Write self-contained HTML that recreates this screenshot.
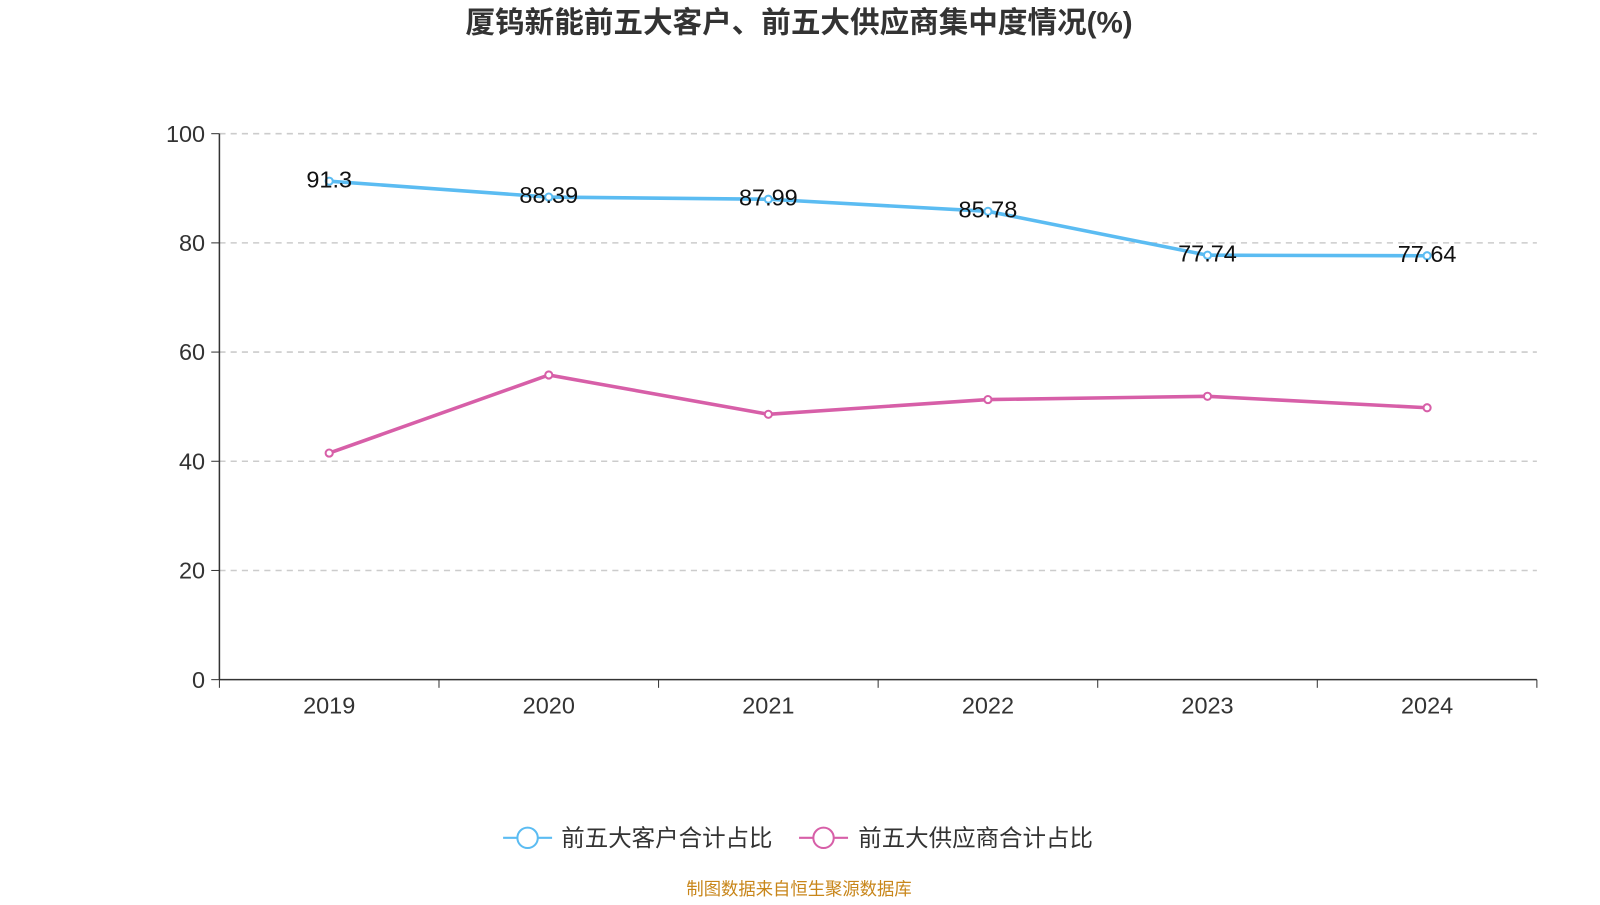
<!DOCTYPE html>
<html><head><meta charset="utf-8"><style>
body{margin:0;background:#fff;width:1600px;height:900px;overflow:hidden;font-family:"Liberation Sans","Noto Sans CJK SC",sans-serif}
</style></head><body>
<svg id="chart" width="1600" height="900" xmlns="http://www.w3.org/2000/svg" font-family="Liberation Sans, Noto Sans CJK SC, sans-serif">
<g transform="scale(1.0205)">
<text x="783" y="32" text-anchor="middle" font-size="29" font-weight="bold" fill="#333">厦钨新能前五大客户、前五大供应商集中度情况(%)</text>
<g id="grid"></g><g id="axes"></g><g id="series"></g>
<g>
<line x1="493" y1="821" x2="541" y2="821" stroke="#5bbcf2" stroke-width="2"/>
<circle cx="517" cy="821" r="10" fill="#fff" stroke="#5bbcf2" stroke-width="2"/>
<text x="550" y="829" font-size="23" fill="#333">前五大客户合计占比</text>
<line x1="783" y1="821" x2="831" y2="821" stroke="#d75fa8" stroke-width="2"/>
<circle cx="807" cy="821" r="10" fill="#fff" stroke="#d75fa8" stroke-width="2"/>
<text x="841" y="829" font-size="23" fill="#333">前五大供应商合计占比</text>
</g>
<text x="783" y="877" text-anchor="middle" font-size="17" fill="#c8861a">制图数据来自恒生聚源数据库</text>
</g>
</svg>
<script>
const categories=["2019","2020","2021","2022","2023","2024"];
const customers=[91.3,88.39,87.99,85.78,77.74,77.64];
const suppliers=[41.5,55.8,48.6,51.3,51.9,49.8];
const yTicks=[0,20,40,60,80,100];
const NS="http://www.w3.org/2000/svg";
const x0=215,x1=1506,y0=666,y1=131;
const bw=(x1-x0)/categories.length;
const X=i=>x0+bw*(i+0.5);
const Y=v=>y0-(v/100)*(y0-y1);
function mk(t,a,p){const e=document.createElementNS(NS,t);for(const k in a)e.setAttribute(k,a[k]);p.appendChild(e);return e;}
const grid=document.getElementById('grid'),axes=document.getElementById('axes'),ser=document.getElementById('series');
yTicks.forEach(v=>{
 if(v>0){const g=mk('line',{x1:x0,x2:x1,y1:Y(v),y2:Y(v),stroke:'#ccc','stroke-dasharray':'6,5','stroke-width':1.5},grid);
 
 }
 mk('line',{x1:x0-8,x2:x0,y1:Y(v),y2:Y(v),stroke:'#333'},axes);
 const t=mk('text',{x:x0-14,y:Y(v)+8,'text-anchor':'end','font-size':23,fill:'#333'},axes);t.textContent=v;
 
 
});
const ya=mk('line',{x1:x0,x2:x0,y1:y1,y2:y0,stroke:'#333','stroke-width':1.5},axes);


const xa=mk('line',{x1:x0,x2:x1,y1:y0,y2:y0,stroke:'#333','stroke-width':1.5},axes);


for(let i=0;i<=categories.length;i++)mk('line',{x1:x0+bw*i,x2:x0+bw*i,y1:y0,y2:y0+8,stroke:'#333'},axes);
categories.forEach((c,i)=>{const t=mk('text',{x:X(i),y:y0+33,'text-anchor':'middle','font-size':23,fill:'#333'},axes);t.textContent=c;
 
 });
function draw(vals,color,name,labels){
 const p=mk('polyline',{points:vals.map((v,i)=>X(i)+','+Y(v)).join(' '),fill:'none',stroke:color,'stroke-width':3.5},ser);
 
 
 vals.forEach((v,i)=>{const c=mk('circle',{cx:X(i),cy:Y(v),r:3.5,fill:'#fff',stroke:color,'stroke-width':2},ser);
  
  
  if(labels){const t=mk('text',{x:X(i),y:Y(v)+6,'text-anchor':'middle','font-size':23,fill:'#111'},ser);t.textContent=v;
   
   }
 });
}
draw(suppliers,'#d75fa8','suppliers',false);
draw(customers,'#5bbcf2','customers',true);
</script>
</body></html>
